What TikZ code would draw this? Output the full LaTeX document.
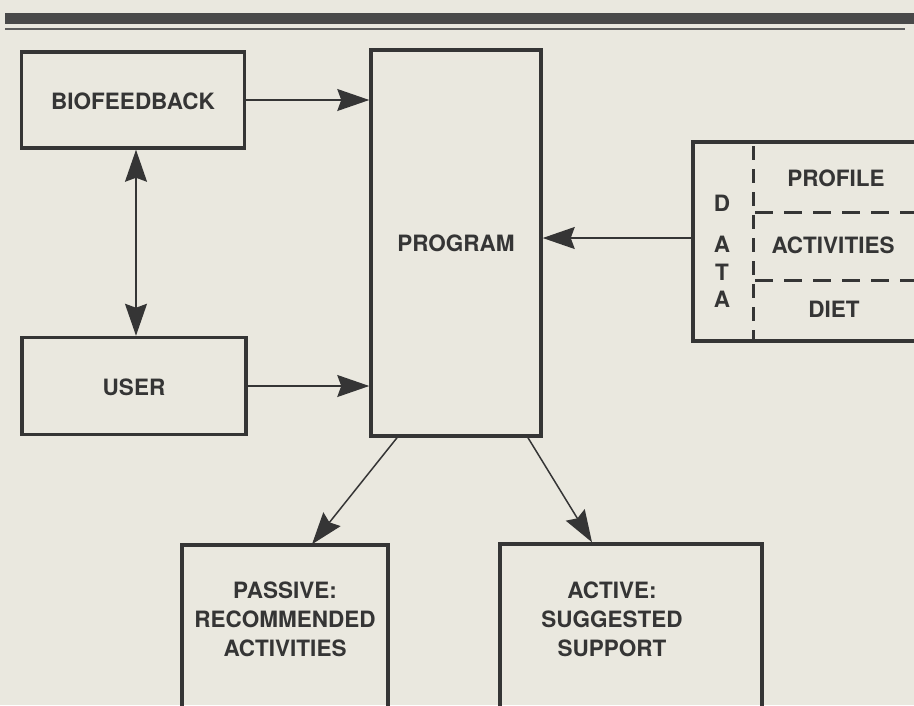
\documentclass[tikz,border=0pt]{standalone}
\usepackage{fontspec}
\setmainfont{TeX Gyre Heros}
\usetikzlibrary{arrows.meta}
\definecolor{paper}{HTML}{EAE8DF}
\definecolor{ink}{HTML}{353535}
\begin{document}
\begin{tikzpicture}[x=1pt,y=-1pt,
  box/.style={draw=ink,line width=3.5pt,minimum width=#1,inner sep=0pt},
  lbl/.style={text=ink,font=\fontsize{22.5}{29}\selectfont\bfseries,align=center,inner sep=0pt},
  arr/.style={draw=ink,line width=1.5pt,-{Stealth[length=32pt,width=22pt,inset=4pt]}},
  arrb/.style={draw=ink,line width=1.5pt,{Stealth[length=32pt,width=22pt,inset=4pt]}-{Stealth[length=32pt,width=22pt,inset=4pt]}},
  dsh/.style={draw=ink,line width=3pt,dash pattern=on 14pt off 9pt}]
\fill[paper] (0,0) rectangle (914,705);
\useasboundingbox (0,0) rectangle (914,705);
% top rules
\fill[ink!90] (5,13) rectangle (914,24);
\fill[ink!80] (5,28) rectangle (905,30);
% boxes
\node[box=223pt,minimum height=96pt] (bio) at (133,100) {};
\node[box=224pt,minimum height=97pt] (user) at (134,386) {};
\node[box=170pt,minimum height=386pt] (prog) at (456,243) {};
\node[box=240pt,minimum height=199pt] (data) at (813,241.5) {};
\node[box=206pt,minimum height=180pt] (passive) at (285,635) {};
\node[box=262pt,minimum height=180pt] (active) at (631,634) {};
% texts
\node[lbl] (tbio) at (133,101) {BIOFEEDBACK};
\node[lbl] (tuser) at (134,387) {USER};
\node[lbl] (tprog) at (456,243) {PROGRAM};
\node[lbl] (tpassive) at (285,619) {PASSIVE:\\RECOMMENDED\\ACTIVITIES};
\node[lbl] (tactive) at (612,619) {ACTIVE:\\SUGGESTED\\SUPPORT};
\node[lbl] (td1) at (722,203) {D};
\node[lbl] (td2) at (722,244) {A};
\node[lbl] (td3) at (722,272) {T};
\node[lbl] (td4) at (722,299) {A};
\node[lbl] (tprof) at (836,178) {PROFILE};
\node[lbl] (tact) at (833,245) {ACTIVITIES};
\node[lbl] (tdiet) at (834,309) {DIET};
% data inner dashes
\coordinate (v1) at (753,146);
\coordinate (v2) at (753,340);
\draw[dsh] (v1) -- (v2);
\coordinate (h1) at (755,212);
\coordinate (h2) at (914,212);
\coordinate (h3) at (755,280);
\coordinate (h4) at (914,280);
\draw[dsh,dash pattern=on 18pt off 11pt] (h1) -- (h2);
\draw[dsh,dash pattern=on 18pt off 11pt] (h3) -- (h4);
% connectors
\draw[arr] (bio.east) -- (bio.east -| prog.west);
\draw[arr] (user.east) -- (user.east -| prog.west);
\draw[arrb] ([xshift=3pt]bio.south) -- ([xshift=2pt]user.north);
\draw[arr] ([yshift=3.5pt]data.west) -- ([yshift=3.5pt]data.west -| prog.east);
\draw[arr] ([xshift=-59pt]prog.south) -- ([xshift=27pt,yshift=-1pt]passive.north);
\draw[arr] ([xshift=72pt]prog.south) -- ([xshift=-39pt]active.north);
\end{tikzpicture}
\end{document}
